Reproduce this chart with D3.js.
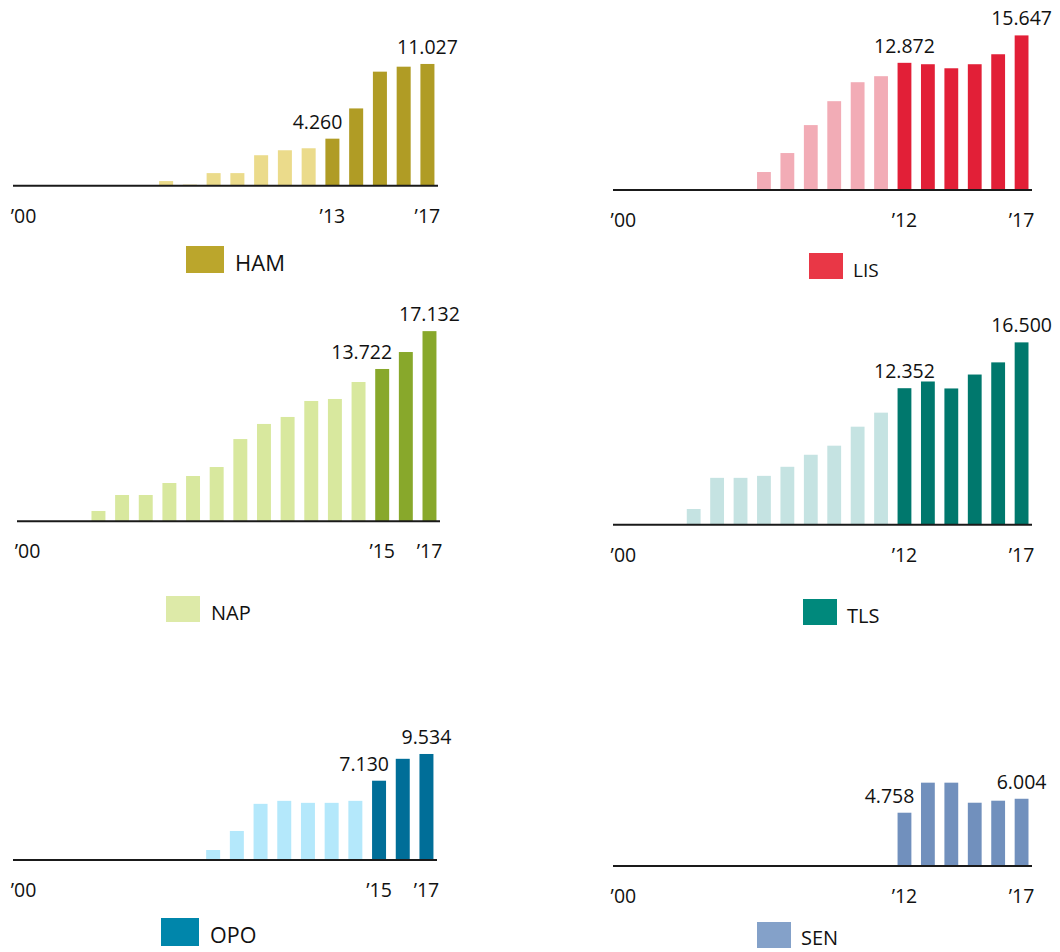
<!DOCTYPE html>
<html>
<head>
<meta charset="utf-8">
<script src="https://cdn.jsdelivr.net/npm/d3@7"></script>
<style>
  html, body { margin: 0; padding: 0; background: #fff; }
  svg { display: block; font-family: "Open Sans", "Noto Sans", sans-serif; }
</style>
</head>
<body>
<svg id="chart" width="1060" height="952"></svg>
<script>
// ---------- DATA ----------
const years = ["2000","2001","2002","2003","2004","2005","2006","2007","2008","2009",
               "2010","2011","2012","2013","2014","2015","2016","2017"];

const hamValues = [null,null,null,null,null,null, 420, 100, 1140, 1140, 2760, 3210, 3390, 4260, 7000, 10330, 10780, 11027];
const lisValues = [null,null,null,null,null,null, 1820, 3740, 6570, 8990, 10910, 11520, 12872, 12730, 12320, 12730, 13740, 15647];
const napValues = [null,null,null, 930, 2370, 2370, 3450, 4080, 4890, 7410, 8770, 9400, 10840, 11020, 12550, 13722, 15250, 17132];
const tlsValues = [null,null,null, 1420, 4240, 4240, 4420, 5240, 6330, 7150, 8870, 10140, 12352, 12960, 12330, 13590, 14690, 16500];
const opoValues = [null,null,null,null,null,null,null,null, 900, 2610, 5050, 5320, 5140, 5140, 5320, 7130, 9100, 9534];
const senValues = [null,null,null,null,null,null,null,null,null,null,null,null, 4758, 7440, 7440, 5650, 5830, 6004];

const airports   = ["HAM", "LIS", "NAP", "TLS", "OPO", "SEN"];
const startYears = ["2013", "2012", "2015", "2012", "2015", "2012"];
const tickLabels = [
  ["’00", "’13", "’17"],
  ["’00", "’12", "’17"],
  ["’00", "’15", "’17"],
  ["’00", "’12", "’17"],
  ["’00", "’15", "’17"],
  ["’00", "’12", "’17"]
];
const tickYears = [
  ["2000", "2013", "2017"],
  ["2000", "2012", "2017"],
  ["2000", "2015", "2017"],
  ["2000", "2012", "2017"],
  ["2000", "2015", "2017"],
  ["2000", "2012", "2017"]
];
const labelYears = [
  ["2013", "2017"], ["2012", "2017"], ["2015", "2017"],
  ["2012", "2017"], ["2015", "2017"], ["2012", "2017"]
];
const seriesValues = [hamValues, lisValues, napValues, tlsValues, opoValues, senValues];

// ---------- STYLE / LAYOUT ----------
const darkColors   = ["#B09C25", "#E21F37", "#88A82B", "#00786D", "#006E98", "#7190BD"];
const lightColors  = ["#EBDB8B", "#F2ACB6", "#D8E89E", "#C5E3E2", "#B4E8FB", "#7190BD"];
const legendColors = ["#BBA62C", "#E93746", "#DDEAA8", "#00897C", "#0086AB", "#84A1C9"];

const layout = [
  { x0: 13,  x1: 438,  base: 185.7, k: 0.01104, sw: [186, 246, 38, 27], tx: 235, ty: 271, fs: 22 },
  { x0: 613, x1: 1032, base: 190,   k: 0.00988, sw: [809, 253, 34, 26], tx: 853, ty: 277, fs: 19 },
  { x0: 17,  x1: 440,  base: 521.3, k: 0.01110, sw: [166, 596, 34, 26], tx: 211, ty: 620, fs: 20 },
  { x0: 613, x1: 1032, base: 524.7, k: 0.01105, sw: [803, 599, 34, 26], tx: 847, ty: 623, fs: 20 },
  { x0: 13,  x1: 437,  base: 860,   k: 0.01112, sw: [161, 918, 38, 28], tx: 210, ty: 943, fs: 21.5 },
  { x0: 613, x1: 1032, base: 866,   k: 0.01120, sw: [757, 922, 34, 26], tx: 801, ty: 945, fs: 20 }
];

const fmt = v => d3.format(",")(v).replace(/,/g, ".");
const svg = d3.select("#chart");

airports.forEach((name, i) => {
  const L = layout[i];
  const vals = seriesValues[i];
  const data = years.map((y, j) => ({ year: y, value: vals[j] }));
  const g = svg.append("g");

  const x = d3.scaleBand().domain(years).range([L.x0, L.x1])
    .paddingInner(0.41).paddingOuter(0.15);
  const y = d3.scaleLinear().domain([0, 10000]).range([L.base, L.base - 10000 * L.k]);

  const start = +startYears[i];
  g.selectAll("rect.bar")
    .data(data.filter(d => d.value != null))
    .join("rect")
    .attr("class", "bar")
    .attr("x", d => x(d.year))
    .attr("width", x.bandwidth())
    .attr("y", d => y(d.value))
    .attr("height", d => y(0) - y(d.value))
    .attr("fill", d => (+d.year >= start ? darkColors[i] : lightColors[i]));

  // baseline axis
  const axis = d3.axisBottom(x).tickSize(0).tickValues([]);
  const ax = g.append("g").attr("transform", `translate(0,${y(0)})`).call(axis);
  ax.select(".domain").attr("stroke", "#1a1a1a").attr("stroke-width", 2)
    .attr("d", `M${L.x0},0H${L.x1}`);

  // year tick labels
  g.selectAll("text.tick")
    .data(tickYears[i].map((yr, j) => ({ yr, label: tickLabels[i][j] })))
    .join("text")
    .attr("class", "tick")
    .attr("x", d => x(d.yr) + x.bandwidth() / 2)
    .attr("y", y(0) + 37)
    .attr("text-anchor", "middle")
    .attr("font-size", 19.5)
    .attr("fill", "#111")
    .text(d => d.label);

  // value labels
  labelYears[i].forEach(yr => {
    const j = years.indexOf(yr);
    const v = vals[j];
    const top = y(v);
    const baseLine = top - 10;
    const next = vals[j + 1];
    const overlap = next != null && y(next) < baseLine + 2;
    g.append("text")
      .attr("class", "value")
      .attr("x", overlap ? x(yr) + x.bandwidth() + 3 : x(yr) + x.bandwidth() / 2)
      .attr("y", baseLine)
      .attr("text-anchor", overlap ? "end" : "middle")
      .attr("font-size", 19.5)
      .attr("fill", "#111")
      .text(fmt(v));
  });

  // legend
  g.append("rect")
    .attr("x", L.sw[0]).attr("y", L.sw[1])
    .attr("width", L.sw[2]).attr("height", L.sw[3])
    .attr("fill", legendColors[i]);
  g.append("text")
    .attr("x", L.tx).attr("y", L.ty)
    .attr("font-size", L.fs)
    .attr("fill", "#111")
    .text(name);
});
</script>
</body>
</html>
